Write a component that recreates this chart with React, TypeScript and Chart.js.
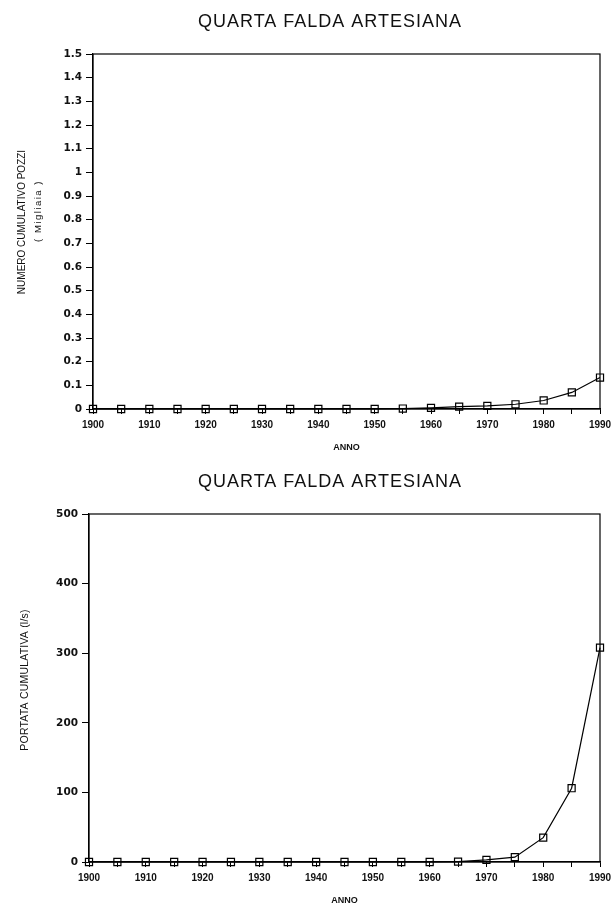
import React, { useEffect, useRef } from "react";
import { Chart, registerables } from "chart.js";

Chart.register(...registerables);

// Years sampled every five years
const years = [1900, 1905, 1910, 1915, 1920, 1925, 1930, 1935, 1940, 1945, 1950, 1955, 1960, 1965, 1970, 1975, 1980, 1985, 1990];

// Cumulative number of wells (thousands)
const wellsThousands = [0, 0, 0, 0, 0, 0, 0, 0, 0, 0, 0, 0.002, 0.005, 0.01, 0.013, 0.02, 0.036, 0.07, 0.133];

// Cumulative discharge (l/s)
const flowLs = [0, 0, 0, 0, 0, 0, 0, 0, 0, 0, 0, 0, 0, 0.5, 3, 7, 35, 106, 308];

const chartTitle = "QUARTA FALDA ARTESIANA";
const xTitle = "ANNO";
const wellsTitle = ["NUMERO CUMULATIVO POZZI", "( Migliaia )"];
const flowTitle = "PORTATA CUMULATIVA (l/s)";

type PanelSpec = {
  values: number[];
  yMax: number;
  yStep: number;
  yTitles: { text: string; x: number; y: number; size: number; spacing: number }[];
  axisWidth: number;
  axisHeight: number;
  formatY: (v: number) => string;
};

function makePanel(canvas: HTMLCanvasElement, spec: PanelSpec) {
  const decorations = {
    id: "decorations",
    afterDraw(chart: Chart) {
      const { ctx, chartArea } = chart;
      ctx.save();
      // frame around the plot
      ctx.strokeStyle = "#000";
      ctx.lineWidth = 1.2;
      ctx.strokeRect(chartArea.left, chartArea.top, chartArea.right - chartArea.left, chartArea.bottom - chartArea.top);

      ctx.fillStyle = "#111";
      ctx.textAlign = "center";
      ctx.textBaseline = "middle";
      // main title
      ctx.font = '18px "Liberation Sans", Arial, sans-serif';
      (ctx as any).letterSpacing = "1px";
      ctx.fillText(chartTitle, 330, 22);
      // x axis title
      (ctx as any).letterSpacing = "0px";
      ctx.font = 'bold 9px "Liberation Sans", Arial, sans-serif';
      ctx.fillText(xTitle, (chartArea.left + chartArea.right) / 2, chartArea.bottom + 39);
      // y axis titles (rotated)
      for (const t of spec.yTitles) {
        ctx.save();
        ctx.translate(t.x, t.y);
        ctx.rotate(-Math.PI / 2);
        ctx.font = `${t.size}px "Liberation Sans", Arial, sans-serif`;
        (ctx as any).letterSpacing = `${t.spacing}px`;
        ctx.fillText(t.text, 0, 0);
        ctx.restore();
      }
      ctx.restore();
    },
  };

  return new Chart(canvas, {
    type: "line",
    data: {
      datasets: [
        {
          data: years.map((x, i) => ({ x, y: spec.values[i] })),
          borderColor: "#000",
          borderWidth: 1.2,
          pointStyle: "rect",
          pointRadius: 5,
          pointBorderWidth: 1.2,
          pointBorderColor: "#000",
          pointBackgroundColor: "rgba(0,0,0,0)",
          tension: 0,
          clip: false as any,
        },
      ],
    },
    options: {
      animation: false,
      responsive: false,
      maintainAspectRatio: false,
      layout: { padding: { top: 54, right: 14, left: 0, bottom: 0 } },
      plugins: { legend: { display: false }, tooltip: { enabled: false }, title: { display: false } },
      scales: {
        x: {
          type: "linear",
          min: 1900,
          max: 1990,
          afterFit: (scale: any) => {
            scale.height = spec.axisHeight;
            scale.paddingLeft = 0;
            scale.paddingRight = 0;
          },
          grid: { drawOnChartArea: false, drawTicks: true, tickLength: 5, color: "#000", lineWidth: 1 },
          border: { display: true, color: "#000", width: 1.2 },
          ticks: {
            stepSize: 5,
            autoSkip: false,
            maxRotation: 0,
            padding: 5,
            color: "#111",
            font: { family: '"Liberation Sans", Arial, sans-serif', size: 10, weight: "bold" },
            callback: (v: any) => (Number(v) % 10 === 0 ? String(v) : ""),
          },
        },
        y: {
          type: "linear",
          min: 0,
          max: spec.yMax,
          afterFit: (scale: any) => {
            scale.width = spec.axisWidth;
            scale.paddingTop = 0;
            scale.paddingBottom = 0;
          },
          grid: { drawOnChartArea: false, drawTicks: true, tickLength: 7, color: "#000", lineWidth: 1 },
          border: { display: true, color: "#000", width: 1.2 },
          ticks: {
            stepSize: spec.yStep,
            padding: 4,
            color: "#111",
            font: { family: '"DejaVu Sans", sans-serif', size: 10.5, weight: "bold" },
            callback: (v: any) => spec.formatY(Number(v)),
          },
        },
      },
    },
    plugins: [decorations],
  });
}

export default function App() {
  const topRef = useRef<HTMLCanvasElement>(null);
  const bottomRef = useRef<HTMLCanvasElement>(null);

  useEffect(() => {
    const top = makePanel(topRef.current!, {
      values: wellsThousands,
      yMax: 1.5,
      yStep: 0.1,
      axisWidth: 93,
      axisHeight: 51,
      yTitles: [
        { text: wellsTitle[0], x: 22, y: 222, size: 10, spacing: 0 },
        { text: wellsTitle[1], x: 38, y: 211, size: 9.5, spacing: 1.5 },
      ],
      formatY: (v) => String(Math.round(v * 10) / 10),
    });
    const bottom = makePanel(bottomRef.current!, {
      values: flowLs,
      yMax: 500,
      yStep: 100,
      axisWidth: 89,
      axisHeight: 49,
      yTitles: [{ text: flowTitle, x: 25, y: 220, size: 10.5, spacing: 0.2 }],
      formatY: (v) => String(Math.round(v)),
    });
    return () => {
      top.destroy();
      bottom.destroy();
    };
  }, []);

  return (
    <div style={{ position: "absolute", left: 0, top: 0, width: 614, height: 911, background: "#fff" }}>
      <canvas ref={topRef} width={614} height={460} style={{ position: "absolute", left: 0, top: 0, width: 614, height: 460 }} />
      <canvas ref={bottomRef} width={614} height={451} style={{ position: "absolute", left: 0, top: 460, width: 614, height: 451 }} />
    </div>
  );
}
